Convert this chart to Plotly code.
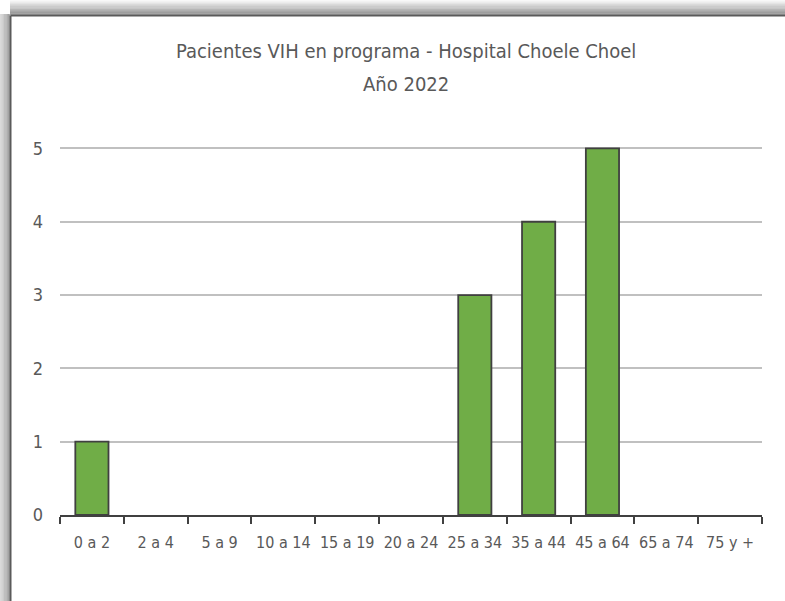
import plotly.graph_objects as go

categories = ["0 a 2", "2 a 4", "5 a 9", "10 a 14", "15 a 19", "20 a 24",
              "25 a 34", "35 a 44", "45 a 64", "65 a 74", "75 y +"]
patients = [1, 0, 0, 0, 0, 0, 3, 4, 5, 0, 0]
y_ticks = [0, 1, 2, 3, 4, 5]
title_lines = ["Pacientes VIH en programa - Hospital Choele Choel", "Año 2022"]

W, H = 785, 601
L, R, T, B = 60, 23, 147, 86
PW, PH = W - L - R, H - T - B

def px(x):
    return (x - L) / PW

def py(y):
    return (H - B - y) / PH

FONT = "DejaVu Sans Condensed, Liberation Sans Narrow, Roboto Condensed, sans-serif"
TXT = "#595959"

bar_y = [v if v else None for v in patients]

fig = go.Figure(go.Bar(
    x=categories, y=bar_y,
    marker=dict(color="#70AD47", line=dict(color="#404040", width=1.8)),
    width=0.52,
))

shapes = []
n = 12
for i in range(n):
    g = int(248 - (248 - 150) * i / (n - 1))
    col = f"rgb({g},{g},{g})"
    y0 = i * 14.5 / n
    y1 = y0 + 14.5 / n + 0.3
    shapes.append(dict(type="rect", xref="paper", yref="paper",
                       x0=px(10), x1=px(W + 5), y0=py(y1), y1=py(y0),
                       fillcolor=col, line=dict(width=0), layer="below"))
for i in range(n):
    g = int(220 - (220 - 160) * i / (n - 1))
    col = f"rgb({g},{g},{g})"
    x0 = i * 9.5 / n
    x1 = x0 + 9.5 / n + 0.3
    shapes.append(dict(type="rect", xref="paper", yref="paper",
                       x0=px(x0), x1=px(x1), y0=py(H + 5), y1=py(14),
                       fillcolor=col, line=dict(width=0), layer="below"))
shapes.append(dict(type="line", xref="paper", yref="paper",
                   x0=px(10.5), x1=px(W + 5), y0=py(15.5), y1=py(15.5),
                   line=dict(color="#5a5a5a", width=2), layer="below"))
shapes.append(dict(type="line", xref="paper", yref="paper",
                   x0=px(10.5), x1=px(10.5), y0=py(15.5), y1=py(H + 5),
                   line=dict(color="#5a5a5a", width=2), layer="below"))

annotations = []
for line_text, ypix in zip(title_lines, [51, 84]):
    annotations.append(dict(
        text=line_text, xref="paper", yref="paper", x=px(406), y=py(ypix),
        xanchor="center", yanchor="middle", showarrow=False,
        font=dict(family=FONT, size=20, color=TXT)))

fig.update_layout(
    width=W, height=H,
    margin=dict(l=L, r=R, t=T, b=B, autoexpand=False),
    paper_bgcolor="white", plot_bgcolor="white",
    showlegend=False,
    font=dict(family=FONT, color=TXT, size=17),
    shapes=shapes,
    annotations=annotations,
)
fig.update_xaxes(
    type="category", tickson="boundaries", ticks="outside", ticklen=7,
    tickcolor="#404040", tickwidth=2, showline=True, linecolor="#404040",
    linewidth=2, showgrid=False, ticklabelstandoff=12, tickangle=0,
    automargin=False,
    tickfont=dict(family=FONT, size=16, color=TXT),
)
fig.update_yaxes(
    range=[0, 5.02], tickvals=y_ticks, showgrid=True, gridcolor="#c0c0c0",
    gridwidth=1.5, zeroline=False, showline=False, ticks="",
    ticklabelstandoff=16, automargin=False,
    tickfont=dict(family=FONT, size=18, color=TXT),
)
fig.write_html("out.html",
               config={"displayModeBar": False},
               post_script="document.body.style.margin='0';"
                           "document.body.style.overflow='hidden';")
